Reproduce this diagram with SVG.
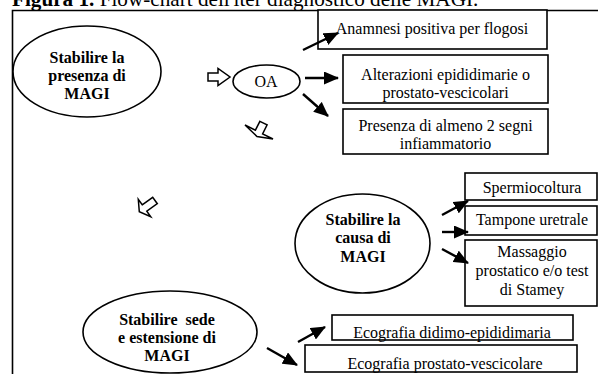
<svg xmlns="http://www.w3.org/2000/svg" width="598" height="374" viewBox="0 0 598 374">
<style>
text{font-family:Liberation Serif,Times New Roman,serif}
.t{font-size:16px;text-anchor:middle;fill:#000}
.b{font-weight:bold}
.s{fill:#fff;stroke:#000;stroke-width:1.6}
.h{fill:#fff;stroke:#000;stroke-width:1.5;stroke-linejoin:miter}
.c{stroke:#000;stroke-width:2.4;fill:none;marker-end:url(#ah)}
</style>
<defs>
<marker id="ah" markerUnits="userSpaceOnUse" markerWidth="15" markerHeight="13" refX="14" refY="6.5" orient="auto">
<path d="M0,0 L15,6.5 L0,13 Z" fill="#000"/>
</marker>
</defs>
<rect width="598" height="374" fill="#fff"/>
<g font-family="Liberation Serif, serif">
<text x="12" y="6" font-size="21.2"><tspan font-weight="bold">Figura 1.</tspan> Flow-chart dell'iter diagnostico delle MAGI.</text>
<path d="M12.5,374 V10.5 H598" fill="none" stroke="#000" stroke-width="1.6"/>

<g id="n-presenza">
<ellipse class="s" cx="87" cy="71.5" rx="74" ry="45.5"/>
<text class="t b" x="87" y="62.6">Stabilire la</text>
<text class="t b" x="87" y="81">presenza di</text>
<text class="t b" x="87" y="99.4">MAGI</text>
</g>
<g id="n-oa">
<ellipse class="s" cx="266.5" cy="81.5" rx="33.5" ry="16.5"/>
<text class="t" x="266" y="87">OA</text>
</g>
<g id="n-anamnesi">
<rect class="s" x="318" y="10" width="229" height="39"/>
<text class="t" x="432" y="34">Anamnesi positiva per flogosi</text>
</g>
<g id="n-alterazioni">
<rect class="s" x="343" y="55" width="205" height="48"/>
<text class="t" x="445.5" y="80">Alterazioni epididimarie o</text>
<text class="t" x="445.5" y="98">prostato-vescicolari</text>
</g>
<g id="n-segni">
<rect class="s" x="343" y="109" width="205" height="45"/>
<text class="t" x="445.5" y="131">Presenza di almeno 2 segni</text>
<text class="t" x="445.5" y="149">infiammatorio</text>
</g>
<g id="n-causa">
<ellipse class="s" cx="362.5" cy="243.5" rx="67.5" ry="49.5"/>
<text class="t b" x="363" y="225">Stabilire la</text>
<text class="t b" x="363" y="243.4">causa di</text>
<text class="t b" x="363" y="261.8">MAGI</text>
</g>
<g id="n-spermiocoltura">
<rect class="s" x="465" y="173" width="132" height="27"/>
<text class="t" x="532" y="193">Spermiocoltura</text>
</g>
<g id="n-tampone">
<rect class="s" x="465" y="206" width="132" height="29"/>
<text class="t" x="532" y="225">Tampone uretrale</text>
</g>
<g id="n-massaggio">
<rect class="s" x="465" y="240" width="132" height="66"/>
<text class="t" x="532" y="257">Massaggio</text>
<text class="t" x="532" y="276">prostatico e/o test</text>
<text class="t" x="532" y="295">di Stamey</text>
</g>
<g id="n-sede">
<ellipse class="s" cx="170" cy="332" rx="87" ry="41"/>
<text class="t b" x="167" y="324.6" xml:space="preserve">Stabilire  sede</text>
<text class="t b" x="167" y="343">e estensione di</text>
<text class="t b" x="167" y="361.4">MAGI</text>
</g>
<g id="n-eco-didimo">
<rect class="s" x="332" y="315" width="241" height="25"/>
<text class="t" x="452" y="338">Ecografia didimo-epididimaria</text>
</g>
<g id="n-eco-prostato">
<rect class="s" x="305" y="345" width="272" height="27"/>
<text class="t" x="445" y="369">Ecografia prostato-vescicolare</text>
</g>
</g>

<g id="connectors">
<path class="h" d="M208,73 H218 V68.5 L230,77 L218,85.5 V81 H208 Z"/>
<path class="h" d="M259.9,121.3 L267.1,124.9 L262.6,133.8 L273,139 L257,136.5 L245,125 L255.4,130.2 Z"/>
<path class="h" d="M142.2,204.8 L152.7,197.3 L157.3,203.7 L146.8,211.2 L150.7,216.7 L139.3,211.7 L138.3,199.3 Z"/>
<line class="c" x1="303" y1="50" x2="338" y2="33"/>
<line class="c" x1="305" y1="78" x2="338" y2="78"/>
<line class="c" x1="303" y1="94" x2="328" y2="116"/>
<line class="c" x1="442" y1="215" x2="468" y2="201"/>
<line class="c" x1="442" y1="232" x2="468" y2="232"/>
<line class="c" x1="442" y1="249" x2="468" y2="263"/>
<line class="c" x1="298" y1="342" x2="325" y2="327"/>
<line class="c" x1="267" y1="348" x2="297" y2="365"/>
</g>
</svg>
